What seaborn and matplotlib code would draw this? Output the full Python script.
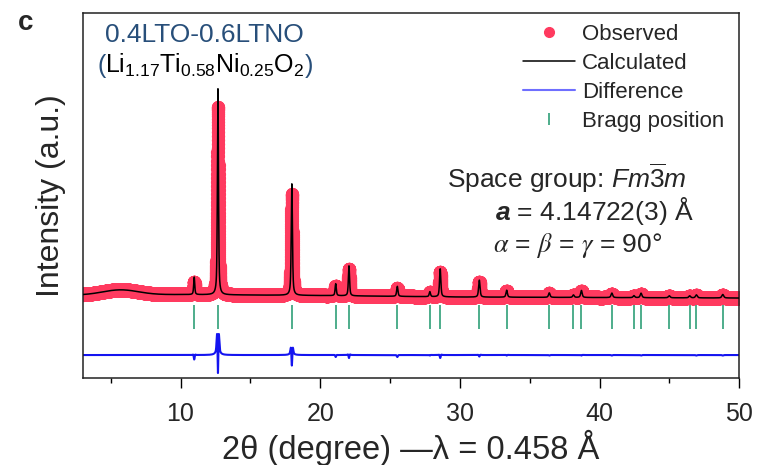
import numpy as np
import pandas as pd
import matplotlib.pyplot as plt
from matplotlib.lines import Line2D
from matplotlib.ticker import MultipleLocator
import seaborn as sns

peak_pos = [10.98, 12.68, 17.97, 21.11, 22.06, 25.52, 27.85, 28.59, 31.39, 33.35,
            36.40, 38.13, 38.70, 40.88, 42.46, 42.97, 44.99, 46.45, 46.93, 48.82]
calc_height = [17.5, 206, 111.5, 12, 30, 10, 5, 28, 17, 7,
               4.5, 2.5, 7, 4.5, 2, 4.5, 2, 2, 3, 3.5]
obs_height = [13, 188, 101, 10, 27, 8, 4.5, 25, 15.5, 6.5,
              4, 2.5, 6.5, 4, 2, 4, 2, 2, 2.5, 3]
calc_fwhm = [0.09, 0.09, 0.10, 0.10, 0.10, 0.11, 0.11, 0.11, 0.12, 0.12,
             0.13, 0.13, 0.13, 0.14, 0.14, 0.14, 0.15, 0.15, 0.15, 0.16]
obs_fwhm = [0.11, 0.115, 0.12, 0.11, 0.11, 0.12, 0.12, 0.12, 0.13, 0.13,
            0.14, 0.14, 0.14, 0.15, 0.15, 0.15, 0.16, 0.16, 0.16, 0.17]

# background anchors and the broad low-angle hump
bg_x = [3, 10, 20, 30, 40, 50]
bg_y = [83, 83.5, 82.5, 81, 80.5, 80]
hump_pos, hump_height, hump_fwhm = 5.7, 5.0, 3.0

diff_offset = 23
bragg_low, bragg_high = 49, 73

red = "#ff3a5f"
navy = "#284f7a"
blue = "#1414f0"
green = "#2f9f78"


def pseudo_voigt(x, x0, h, fwhm, eta=0.6):
    d = (x - x0) / fwhm
    return h * (eta / (1 + 4 * d ** 2) + (1 - eta) * np.exp(-4 * np.log(2) * d ** 2))


two_theta = np.arange(3, 50.0001, 0.002)
background = np.interp(two_theta, bg_x, bg_y)
background += hump_height * np.exp(-4 * np.log(2) * ((two_theta - hump_pos) / hump_fwhm) ** 2)

calc = background.copy()
obs = background.copy()
for p, hc, ho, wc, wo in zip(peak_pos, calc_height, obs_height, calc_fwhm, obs_fwhm):
    calc += pseudo_voigt(two_theta, p, hc, wc)
    obs += pseudo_voigt(two_theta, p, ho, wo)

df = pd.DataFrame({"two_theta": two_theta, "obs": obs, "calc": calc,
                   "diff": obs - calc + diff_offset})

sns.set_theme(style="ticks")
plt.rcParams["font.family"] = ["Liberation Sans", "DejaVu Sans"]
plt.rcParams["mathtext.fontset"] = "custom"
plt.rcParams["mathtext.rm"] = "Liberation Sans"
plt.rcParams["mathtext.it"] = "Liberation Sans:italic"
plt.rcParams["mathtext.bf"] = "Liberation Sans:bold:italic"

fig, ax = plt.subplots(figsize=(7.59, 4.65), dpi=100)
fig.subplots_adjust(left=0.109, right=0.974, bottom=0.187, top=0.972)

sns.scatterplot(data=df, x="two_theta", y="obs", s=90, color=red, linewidth=0,
                ax=ax, zorder=1)
sns.lineplot(data=df, x="two_theta", y="calc", color="black", lw=1.1,
             estimator=None, ax=ax, zorder=3)
sns.lineplot(data=df, x="two_theta", y="diff", color=blue, lw=1.5,
             estimator=None, ax=ax, zorder=2)
ax.vlines(peak_pos, bragg_low, bragg_high, color=green, lw=1.2, zorder=2)

ax.set_xlim(3, 50)
ax.set_ylim(0, 365)
ax.set_yticks([])
ax.set_xticks([10, 20, 30, 40, 50])
ax.xaxis.set_minor_locator(MultipleLocator(5))
ax.tick_params(axis="x", which="major", direction="out", length=7, width=1,
               labelsize=18, pad=10, color="black")
ax.tick_params(axis="x", which="minor", direction="out", length=3.6, width=1,
               color="black")
for sp in ax.spines.values():
    sp.set_visible(True)
    sp.set_color("#222222")
    sp.set_linewidth(1.1)

ax.set_xlabel("2θ (degree) —λ = 0.458 Å", fontsize=23.5, labelpad=3)
ax.set_ylabel("Intensity (a.u.)", fontsize=23, labelpad=12)

handles = [
    Line2D([], [], marker="o", color=red, linestyle="none", markersize=7),
    Line2D([], [], color="black", lw=1.1),
    Line2D([], [], color="#6f6fff", lw=1.5),
    Line2D([], [], marker="|", color=green, linestyle="none", markersize=9, mew=1.2),
]
labels = ["Observed", "Calculated", "Difference", "Bragg position"]
ax.legend(handles, labels, loc="upper left", bbox_to_anchor=(523 / 759, 1 - 24 / 465),
          bbox_transform=fig.transFigure, frameon=False, fontsize=16,
          borderpad=0, borderaxespad=0, labelspacing=0.36, handlelength=2.34,
          handletextpad=0.32)

# sample name and composition
ax.text(4.6, 336, "0.4LTO-0.6LTNO", color=navy, fontsize=19, va="baseline")
formula_y = 305
t_open = ax.text(4.03, formula_y, "(", color=navy, fontsize=18, va="baseline")
fig.canvas.draw()
renderer = fig.canvas.get_renderer()
x_next = ax.transData.inverted().transform((t_open.get_window_extent(renderer).x1, 0))[0]
t_form = ax.text(x_next, formula_y, r"Li$_{1.17}$Ti$_{0.58}$Ni$_{0.25}$O$_{2}$",
                 color="black", fontsize=18, va="baseline")
fig.canvas.draw()
x_next = ax.transData.inverted().transform((t_form.get_window_extent(renderer).x1, 0))[0]
ax.text(x_next, formula_y, ")", color=navy, fontsize=18, va="baseline")

# cell parameters
ax.text(29.08, 190, r"Space group: $Fm\overline{3}m$", fontsize=19, va="baseline")
ax.text(32.51, 158, r"$\mathbf{a}$ = 4.14722(3) Å", fontsize=19, va="baseline")
ax.text(32.37, 126, r"$\alpha$ = $\beta$ = $\gamma$ = 90°", fontsize=19,
        va="baseline", math_fontfamily="stix")

fig.text(18 / 759, 1 - 30 / 465, "c", fontsize=20, fontweight="bold", va="baseline")

fig.savefig("out.png", dpi=100)
